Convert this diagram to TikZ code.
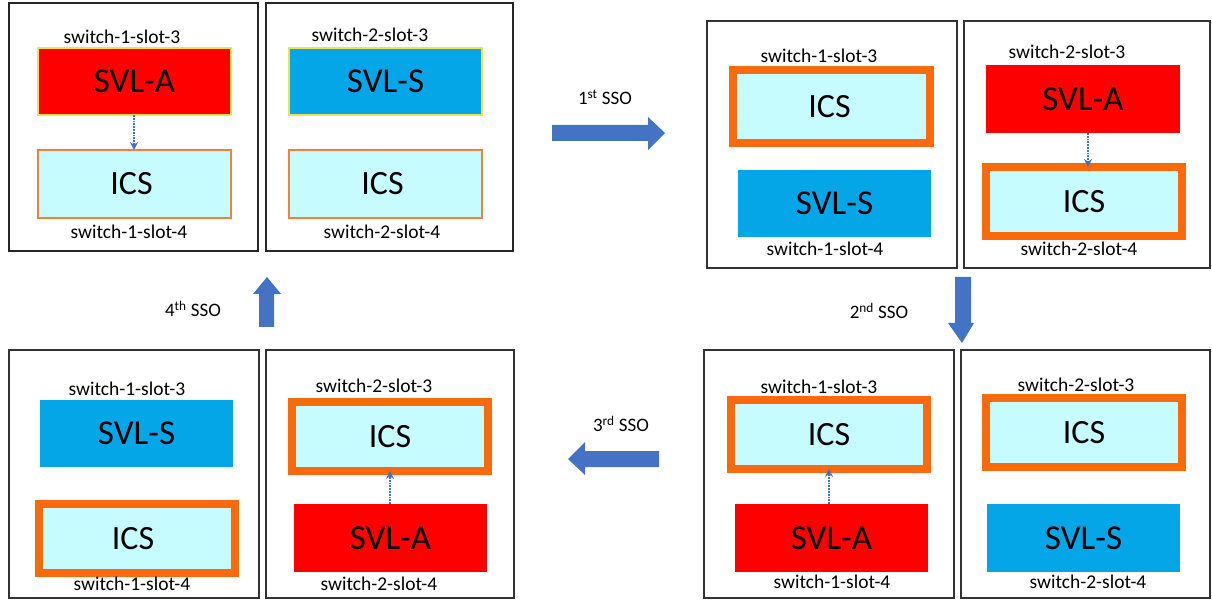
\documentclass[tikz,border=0pt]{standalone}
\usepackage{fontspec}
\setmainfont{Carlito}
\usetikzlibrary{arrows.meta}
\definecolor{svlred}{HTML}{FE0000}
\definecolor{svlblue}{HTML}{04A6E8}
\definecolor{icsfill}{HTML}{C6FCFD}
\definecolor{icsline}{HTML}{F0803C}
\definecolor{icsthick}{HTML}{F96A0C}
\definecolor{arrowblue}{HTML}{4472C4}
\definecolor{edgeyellow}{HTML}{F4E04A}
\tikzset{
  x=1pt,y=-1pt,
  panelbox/.style={draw=black!80,line width=1.2pt,fill=white},
  heavypanel/.style={draw=black!85,line width=2pt,fill=white},
  svla/.style={fill=svlred,text=black,font=\fontsize{35}{37}\selectfont},
  svls/.style={fill=svlblue,text=black,font=\fontsize{35}{37}\selectfont},
  ics/.style={fill=icsfill,text=black,font=\fontsize{34}{36}\selectfont},
  icsthin/.style={ics,draw=icsline,line width=1.6pt},
  icsthickbox/.style={ics,draw=icsthick,line width=8pt},
  yedge/.style={draw=edgeyellow,line width=1.2pt},
  slotlabel/.style={font=\fontsize{19.5}{21}\selectfont,text=black,inner sep=0pt},
  ssolabel/.style={font=\fontsize{19}{21}\selectfont,text=black,inner sep=0pt},
  dotlink/.style={draw=arrowblue,line width=1.8pt,densely dotted,-{Stealth[length=8pt,width=8pt,fill=arrowblue]}},
  bigarrow/.style={fill=arrowblue,draw=none},
}
\newcommand{\blk}[6]{%
  \pgfmathsetlengthmacro{\bw}{#4-#2}%
  \pgfmathsetlengthmacro{\bh}{#5-#3}%
  \node[#6,rectangle,inner sep=0pt,outer sep=0pt,minimum width=\bw,minimum height=\bh,anchor=north west] (#1) at (#2,#3)}
\begin{document}
\begin{tikzpicture}
\useasboundingbox (0,0) rectangle (1212,601);
% top-left
\blk{pa1}{9}{3}{258}{251}{heavypanel} {};
\blk{pa2}{266}{3}{513}{251}{heavypanel} {};
\blk{a1}{38}{48}{231}{115}{svla,yedge} {SVL-A};
\blk{a2}{38}{150}{231}{218}{icsthin} {ICS\kern6pt};
\blk{a3}{289}{48}{482}{115}{svls,yedge} {SVL-S};
\blk{a4}{289}{150}{482}{218}{icsthin} {ICS\kern6pt};
\node[slotlabel] (la1) at (122,37) {switch-1-slot-3};
\node[slotlabel] (la2) at (370,35) {switch-2-slot-3};
\node[slotlabel] (la3) at (129,232) {switch-1-slot-4};
\node[slotlabel] (la4) at (382,232) {switch-2-slot-4};
\draw[dotlink] (a1.south -| 134,0) -- (a2.north -| 134,0);
% top-right
\blk{pb1}{707}{21}{957}{268}{panelbox} {};
\blk{pb2}{964}{21}{1210}{268}{panelbox} {};
\blk{b1}{733}{70}{930}{143}{icsthickbox} {ICS\kern4pt};
\blk{b2}{738}{170}{931}{237}{svls} {SVL-S};
\blk{b3}{986}{65}{1180}{133}{svla} {SVL-A};
\blk{b4}{986}{167}{1182}{236}{icsthickbox} {ICS};
\node[slotlabel] (lb1) at (819,56) {switch-1-slot-3};
\node[slotlabel] (lb2) at (1067,52) {switch-2-slot-3};
\node[slotlabel] (lb3) at (825,249) {switch-1-slot-4};
\node[slotlabel] (lb4) at (1079,249) {switch-2-slot-4};
\draw[dotlink] (b3.south -| 1088,0) -- (b4.north -| 1088,0);
% bottom-right
\blk{pc1}{704}{350}{954}{598}{panelbox} {};
\blk{pc2}{961}{350}{1210}{598}{panelbox} {};
\blk{c1}{731}{400}{927}{469}{icsthickbox} {ICS};
\blk{c2}{735}{504}{928}{572}{svla} {SVL-A};
\blk{c3}{986}{398}{1182}{467}{icsthickbox} {ICS};
\blk{c4}{987}{504}{1180}{572}{svls} {SVL-S};
\node[slotlabel] (lc1) at (819,387) {switch-1-slot-3};
\node[slotlabel] (lc2) at (1076,385) {switch-2-slot-3};
\node[slotlabel] (lc3) at (832,582) {switch-1-slot-4};
\node[slotlabel] (lc4) at (1088,582) {switch-2-slot-4};
\draw[dotlink] (c2.north -| 829,0) -- (c1.south -| 829,0);
% bottom-left
\blk{pd1}{9}{350}{259}{598}{panelbox} {};
\blk{pd2}{266}{350}{514}{598}{panelbox} {};
\blk{d1}{40}{400}{233}{467}{svls} {SVL-S};
\blk{d2}{39}{504}{235}{573}{icsthickbox} {ICS\kern8pt};
\blk{d3}{292}{402}{488}{471}{icsthickbox} {ICS};
\blk{d4}{294}{504}{487}{572}{svla} {SVL-A};
\node[slotlabel] (ld1) at (127,389) {switch-1-slot-3};
\node[slotlabel] (ld2) at (374,386) {switch-2-slot-3};
\node[slotlabel] (ld3) at (132,584) {switch-1-slot-4};
\node[slotlabel] (ld4) at (379,584) {switch-2-slot-4};
\draw[dotlink] (d4.north -| 390,0) -- (d3.south -| 390,0);
% block arrows
\fill[bigarrow] (552,125) -- (648,125) -- (648,117) -- (665,133) -- (648,150) -- (648,141) -- (552,141) -- cycle;
\fill[bigarrow] (955,277) -- (971,277) -- (971,323) -- (974,323) -- (962,343) -- (948,323) -- (955,323) -- cycle;
\fill[bigarrow] (659,451) -- (585,451) -- (585,442) -- (568,459) -- (585,475) -- (585,467) -- (659,467) -- cycle;
\fill[bigarrow] (259,327) -- (274,327) -- (274,294) -- (281,294) -- (267,277) -- (253,294) -- (259,294) -- cycle;
% SSO labels
\node[ssolabel] (s1) at (605,97) {1\textsuperscript{st} SSO};
\node[ssolabel] (s2) at (879,311) {2\textsuperscript{nd} SSO};
\node[ssolabel] (s3) at (621,424) {3\textsuperscript{rd} SSO};
\node[ssolabel] (s4) at (193,309) {4\textsuperscript{th} SSO};
\end{tikzpicture}
\end{document}
